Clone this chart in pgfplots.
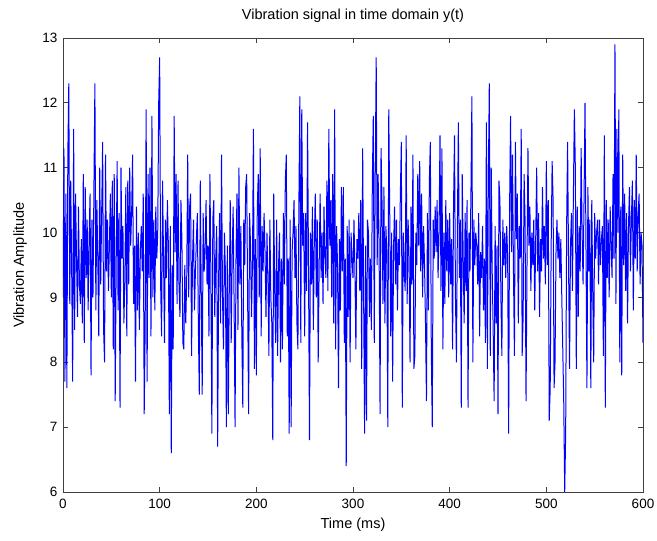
\documentclass[border=0pt]{standalone}
\usepackage{fontspec}
\setmainfont{Liberation Sans}
\usepackage{pgfplots}
\usepackage{pgfplotstable}
\pgfplotsset{compat=1.18}

% one sample per ms, 0..600
\pgfplotstableread[row sep=\\]{
y\\
9.0\\ 11.3\\ 7.7\\ 10.6\\ 7.6\\ 11.2\\ 12.3\\ 8.9\\ 10.8\\ 9.4\\ 7.7\\ 11.6\\ 8.5\\ 10.6\\ 9.6\\ 8.7\\ 10.4\\ 9.2\\ 8.9\\ 9.9\\ 8.6\\ 10.9\\ 8.3\\ 10.7\\ 9.3\\ 10.2\\ 8.8\\ 9.9\\ 10.6\\ 7.8\\ 10.2\\ 9.0\\ 10.7\\ 12.3\\ 8.8\\ 10.5\\ 9.6\\ 8.4\\ 11.0\\ 9.2\\ 10.3\\ 11.4\\ 8.5\\ 8.0\\ 11.2\\ 9.4\\ 10.2\\ 9.1\\ 9.8\\ 10.6\\
9.0\\ 10.8\\ 8.2\\ 10.9\\ 7.4\\ 9.5\\ 11.1\\ 8.8\\ 10.3\\ 7.3\\ 11.0\\ 9.6\\ 10.1\\ 8.6\\ 9.3\\ 10.7\\ 8.4\\ 10.8\\ 9.2\\ 11.0\\ 9.8\\ 10.3\\ 11.2\\ 8.9\\ 9.8\\ 7.7\\ 10.4\\ 8.8\\ 10.0\\ 8.5\\ 9.7\\ 10.1\\ 9.4\\ 10.6\\ 7.2\\ 8.5\\ 11.9\\ 7.7\\ 10.9\\ 9.3\\ 11.0\\ 8.4\\ 11.8\\ 9.0\\ 10.2\\ 8.8\\ 10.4\\ 9.6\\ 10.0\\ 12.0\\
12.7\\ 9.2\\ 8.4\\ 10.8\\ 9.6\\ 8.3\\ 10.2\\ 9.3\\ 10.5\\ 9.8\\ 7.2\\ 10.1\\ 6.6\\ 9.5\\ 8.2\\ 11.8\\ 9.7\\ 10.9\\ 8.9\\ 10.8\\ 9.2\\ 8.7\\ 10.5\\ 9.9\\ 8.3\\ 8.2\\ 9.5\\ 8.6\\ 9.3\\ 11.2\\ 9.0\\ 10.4\\ 10.6\\ 8.1\\ 9.6\\ 10.2\\ 8.8\\ 9.4\\ 9.9\\ 10.3\\ 8.6\\ 7.5\\ 10.8\\ 9.1\\ 7.5\\ 10.3\\ 9.4\\ 9.7\\ 10.5\\ 9.2\\
9.8\\ 8.4\\ 10.9\\ 9.3\\ 6.9\\ 10.2\\ 10.5\\ 8.7\\ 9.6\\ 10.1\\ 6.7\\ 9.3\\ 10.3\\ 8.6\\ 11.2\\ 9.0\\ 8.2\\ 10.0\\ 9.4\\ 7.0\\ 9.8\\ 7.2\\ 9.1\\ 10.5\\ 8.3\\ 9.6\\ 10.4\\ 8.9\\ 7.0\\ 9.7\\ 10.6\\ 8.5\\ 11.0\\ 9.2\\ 10.1\\ 8.4\\ 7.3\\ 10.2\\ 9.5\\ 10.7\\ 10.9\\ 9.0\\ 7.2\\ 10.3\\ 9.8\\ 8.7\\ 9.5\\ 11.6\\ 7.9\\ 9.9\\
7.8\\ 10.4\\ 10.9\\ 9.0\\ 11.3\\ 8.4\\ 10.1\\ 9.4\\ 10.3\\ 9.7\\ 8.7\\ 10.0\\ 9.3\\ 8.1\\ 10.2\\ 9.0\\ 8.6\\ 6.8\\ 10.6\\ 9.1\\ 8.3\\ 10.2\\ 8.1\\ 9.5\\ 10.0\\ 8.0\\ 9.6\\ 8.2\\ 10.3\\ 9.2\\ 10.8\\ 11.2\\ 8.4\\ 9.6\\ 6.9\\ 10.2\\ 7.0\\ 9.7\\ 10.0\\ 10.5\\ 9.3\\ 10.1\\ 8.6\\ 8.2\\ 10.4\\ 12.1\\ 8.3\\ 11.9\\ 9.8\\ 10.3\\
8.4\\ 10.3\\ 9.1\\ 11.7\\ 9.4\\ 6.8\\ 10.0\\ 9.2\\ 10.4\\ 8.5\\ 9.9\\ 10.6\\ 9.0\\ 10.2\\ 8.0\\ 9.5\\ 10.6\\ 9.3\\ 10.0\\ 8.9\\ 10.4\\ 9.6\\ 9.3\\ 10.8\\ 9.1\\ 11.6\\ 9.8\\ 10.5\\ 9.0\\ 10.9\\ 8.6\\ 11.9\\ 8.2\\ 10.1\\ 9.5\\ 7.6\\ 9.9\\ 8.8\\ 10.7\\ 9.4\\ 10.7\\ 8.3\\ 9.6\\ 6.4\\ 10.1\\ 8.7\\ 10.2\\ 8.0\\ 10.0\\ 9.6\\
9.3\\ 10.2\\ 9.4\\ 8.2\\ 9.9\\ 9.6\\ 10.3\\ 9.1\\ 10.5\\ 7.9\\ 11.3\\ 9.0\\ 6.9\\ 9.8\\ 7.1\\ 10.2\\ 10.0\\ 8.7\\ 9.6\\ 8.5\\ 10.8\\ 11.8\\ 8.3\\ 10.9\\ 12.7\\ 9.5\\ 10.9\\ 9.8\\ 7.2\\ 11.3\\ 10.5\\ 8.9\\ 10.7\\ 8.6\\ 10.1\\ 9.7\\ 7.0\\ 11.9\\ 10.3\\ 8.4\\ 10.0\\ 7.7\\ 9.8\\ 10.4\\ 9.2\\ 10.2\\ 8.8\\ 9.9\\ 9.5\\ 10.6\\
11.4\\ 7.3\\ 10.0\\ 9.4\\ 9.1\\ 11.5\\ 8.9\\ 10.2\\ 9.6\\ 8.0\\ 10.4\\ 9.2\\ 11.2\\ 7.9\\ 8.1\\ 10.0\\ 9.5\\ 10.9\\ 9.8\\ 11.1\\ 9.4\\ 10.6\\ 9.0\\ 10.1\\ 9.5\\ 8.6\\ 7.4\\ 10.3\\ 8.8\\ 10.8\\ 11.4\\ 8.2\\ 7.0\\ 10.2\\ 9.6\\ 10.4\\ 9.7\\ 10.5\\ 9.3\\ 10.0\\ 11.5\\ 9.1\\ 11.3\\ 8.2\\ 10.0\\ 8.9\\ 10.5\\ 9.4\\ 10.2\\ 9.0\\
10.3\\ 9.2\\ 9.9\\ 8.2\\ 10.4\\ 11.5\\ 9.0\\ 8.0\\ 10.1\\ 11.7\\ 9.3\\ 10.2\\ 7.3\\ 10.9\\ 9.6\\ 8.6\\ 10.3\\ 9.1\\ 10.5\\ 7.3\\ 10.0\\ 9.4\\ 10.6\\ 12.1\\ 8.0\\ 10.2\\ 9.5\\ 10.0\\ 9.8\\ 9.2\\ 10.3\\ 8.4\\ 9.7\\ 9.3\\ 10.1\\ 8.8\\ 9.6\\ 8.3\\ 11.7\\ 7.9\\ 10.8\\ 12.3\\ 8.1\\ 11.0\\ 9.4\\ 8.5\\ 7.4\\ 10.1\\ 8.6\\ 9.8\\
7.2\\ 10.8\\ 10.5\\ 9.0\\ 8.1\\ 10.2\\ 9.5\\ 10.0\\ 9.3\\ 10.1\\ 9.6\\ 6.9\\ 10.4\\ 11.8\\ 9.7\\ 11.2\\ 9.4\\ 8.1\\ 11.4\\ 9.9\\ 10.6\\ 8.6\\ 10.1\\ 9.6\\ 11.6\\ 8.1\\ 8.7\\ 10.9\\ 10.2\\ 7.4\\ 9.5\\ 11.3\\ 9.8\\ 10.4\\ 9.1\\ 10.0\\ 9.5\\ 10.2\\ 8.8\\ 9.9\\ 11.0\\ 9.4\\ 10.3\\ 8.7\\ 9.9\\ 9.4\\ 10.7\\ 9.6\\ 10.1\\ 9.2\\
11.1\\ 9.5\\ 10.5\\ 7.1\\ 7.6\\ 9.8\\ 11.1\\ 10.5\\ 7.6\\ 8.0\\ 9.7\\ 10.2\\ 9.6\\ 10.0\\ 9.3\\ 9.9\\ 9.0\\ 8.2\\ 7.4\\ 6.0\\ 6.9\\ 10.1\\ 11.4\\ 9.5\\ 7.9\\ 9.8\\ 10.3\\ 9.1\\ 10.6\\ 11.9\\ 11.0\\ 7.9\\ 10.4\\ 8.7\\ 10.1\\ 9.4\\ 11.3\\ 10.0\\ 9.2\\ 10.5\\ 12.0\\ 9.8\\ 7.6\\ 10.7\\ 9.4\\ 10.2\\ 7.6\\ 10.5\\ 9.1\\ 8.0\\
10.3\\ 9.6\\ 10.0\\ 10.2\\ 9.2\\ 10.2\\ 9.5\\ 9.9\\ 10.1\\ 8.1\\ 11.5\\ 7.3\\ 10.5\\ 9.3\\ 10.2\\ 9.0\\ 10.4\\ 9.8\\ 9.3\\ 10.9\\ 9.6\\ 12.9\\ 8.9\\ 11.6\\ 10.0\\ 11.9\\ 8.0\\ 10.4\\ 7.8\\ 11.2\\ 9.5\\ 10.6\\ 9.1\\ 10.3\\ 8.6\\ 10.1\\ 10.7\\ 9.4\\ 10.2\\ 10.8\\ 8.8\\ 10.5\\ 9.6\\ 11.2\\ 9.4\\ 10.3\\ 10.6\\ 9.2\\ 10.0\\ 9.8\\
8.3\\
}\signal

\begin{document}
\fontsize{13.5bp}{16bp}\selectfont
\begin{tikzpicture}
\useasboundingbox (-63bp,-49bp) rectangle (594bp,492bp);
\begin{axis}[
  scale only axis,
  width=580bp,
  height=454bp,
  xmin=0, xmax=600,
  ymin=6, ymax=13,
  xtick={0,100,...,600},
  ytick={6,7,...,13},
  tick align=inside,
  major tick length=5bp,
  axis line style={black!75, line width=0.8bp},
  tick style={black!75, line width=0.8bp},
  /pgf/number format/assume math mode=true,
  ticklabel style={font=\fontsize{13.5bp}{16bp}\selectfont},
  xticklabel style={yshift=-2bp},
  yticklabel style={xshift=-1bp},
  title={Vibration signal in time domain y(t)},
  title style={at={(axis description cs:0.5,1.035)}, anchor=center,
    font=\fontsize{14.5bp}{17bp}\selectfont},
  xlabel={Time (ms)},
  xlabel style={at={(axis description cs:0.5,-0.073)}, anchor=center,
    font=\fontsize{14.5bp}{17bp}\selectfont},
  ylabel={Vibration Amplitude},
  ylabel style={at={(axis description cs:-0.074,0.5)}, anchor=center, rotate=0,
    font=\fontsize{14.5bp}{17bp}\selectfont},
  clip=true,
]
\addplot[blue, line width=1bp, no marks, sharp plot]
  table[x expr=\coordindex, y=y] {\signal};
\end{axis}
\end{tikzpicture}
\end{document}
